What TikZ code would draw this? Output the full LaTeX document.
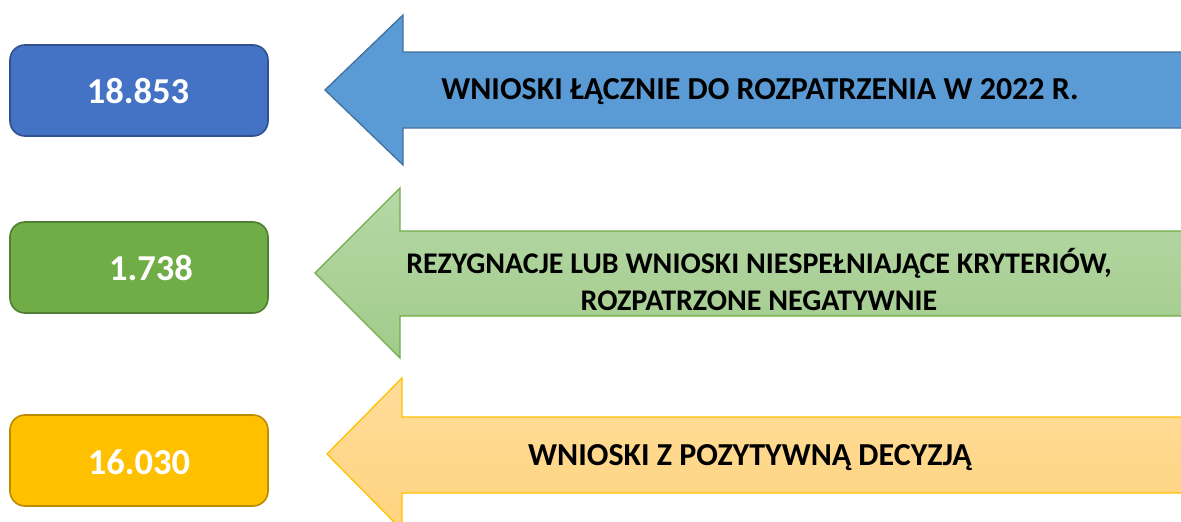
\documentclass[tikz,border=0pt]{standalone}
\usepackage{fontspec}
\setmainfont{Carlito}
\definecolor{bluebox}{HTML}{4472C4}
\definecolor{blueboxline}{HTML}{2F528F}
\definecolor{greenbox}{HTML}{70AD47}
\definecolor{greenboxline}{HTML}{507E32}
\definecolor{yellowbox}{HTML}{FFC000}
\definecolor{yellowboxline}{HTML}{BC8C00}
\definecolor{bluearrow}{HTML}{5B9BD5}
\definecolor{bluearrowline}{HTML}{41719C}
\definecolor{greentop}{HTML}{B6D8A6}
\definecolor{greenbot}{HTML}{A2CB8B}
\definecolor{yellowtop}{HTML}{FFDC9A}
\definecolor{yellowbot}{HTML}{FFD47F}
\begin{document}
\begin{tikzpicture}[x=1pt,y=-1pt,
  numbox/.style={rounded corners=15pt, line width=1.6pt, minimum width=258pt, minimum height=91pt, inner sep=0pt},
  numtext/.style={text=white, font=\fontsize{36.5}{42}\selectfont\bfseries, inner sep=0pt},
  lbltext/.style={text=black, font=\fontsize{32}{37}\selectfont\bfseries, inner sep=0pt, align=center},
  arrowline/.style={line width=1.3pt, line join=miter}]
\useasboundingbox (0,0) rectangle (1181,522);
\clip (0,0) rectangle (1181,522);
% boxes
\node[numbox, draw=blueboxline, fill=bluebox] (b1) at (139,90.5) {};
\node[numbox, draw=greenboxline, fill=greenbox] (b2) at (139,267.5) {};
\node[numbox, draw=yellowboxline, fill=yellowbox] (b3) at (139,460.5) {};
\node[numtext] (n1) at (138,91) {18.853};
\node[numtext] (n2) at (151,268) {1.738};
\node[numtext] (n3) at (139,462) {16.030};
% arrows
\path[arrowline, draw=bluearrowline, fill=bluearrow]
  (325,90) -- (403,15) -- (403,52) -- (1190,52) -- (1190,128) -- (403,128) -- (403,165) -- cycle;
\path[arrowline, draw=greenbox, top color=greentop, bottom color=greenbot]
  (315,273) -- (400,188) -- (400,231) -- (1190,231) -- (1190,316) -- (400,316) -- (400,358) -- cycle;
\path[arrowline, draw=yellowbox, top color=yellowtop, bottom color=yellowbot]
  (327,454) -- (402,378) -- (402,417) -- (1190,417) -- (1190,493) -- (402,493) -- (402,530) -- cycle;
% labels
\node[lbltext] (l1) at (760,92) {WNIOSKI ŁĄCZNIE DO ROZPATRZENIA W 2022 R.};
\node[lbltext, font=\fontsize{30}{37}\selectfont\bfseries] (l2) at (759,280) {REZYGNACJE LUB WNIOSKI NIESPEŁNIAJĄCE KRYTERIÓW,\\ROZPATRZONE NEGATYWNIE};
\node[lbltext] (l3) at (750,458) {WNIOSKI Z POZYTYWNĄ DECYZJĄ};
\end{tikzpicture}
\end{document}
